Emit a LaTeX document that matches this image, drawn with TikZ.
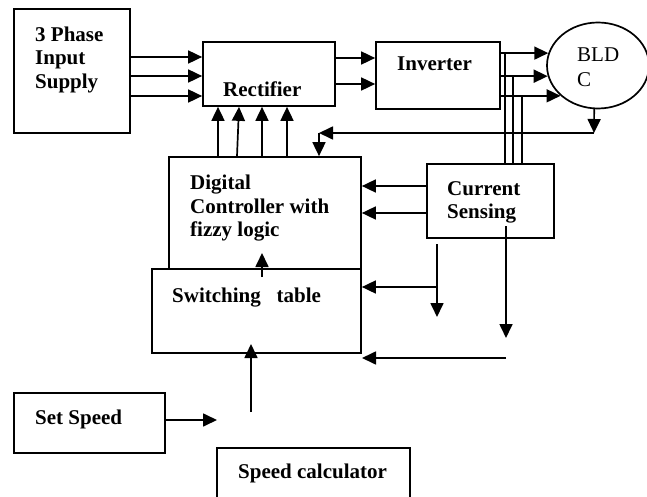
\documentclass[tikz,border=0pt]{standalone}
\usepackage{fontspec}
\setmainfont{Liberation Serif}
\usetikzlibrary{arrows.meta,shapes.geometric}
\begin{document}
\begin{tikzpicture}[x=1pt,y=-1pt,
  blk/.style={draw,line width=1.7pt,inner sep=0pt,rectangle},
  arr/.style={line width=1.7pt,-{Triangle[length=14pt,width=13pt]}},
  ln/.style={line width=1.7pt},
  lbl/.style={inner sep=0pt,font=\fontsize{21pt}{23.5pt}\selectfont\bfseries,align=left},
  lblr/.style={inner sep=0pt,font=\fontsize{21pt}{25pt}\selectfont,align=left}]
\useasboundingbox (0,0) rectangle (647,497);
\clip (0,0) rectangle (647,497);

% blocks
\node[blk,minimum width=116pt,minimum height=124pt] (sup) at (72,71) {};
\node[blk,minimum width=132pt,minimum height=64pt] (rect) at (269,74) {};
\node[blk,minimum width=124pt,minimum height=67pt] (inv) at (438,75.5) {};
\node[draw,line width=1.7pt,ellipse,inner sep=0pt,minimum width=102pt,minimum height=86pt] (bldc) at (598,65.5) {};
\node[blk,minimum width=192pt,minimum height=112pt] (ctrl) at (265,213) {};
\node[blk,fill=white,minimum width=209pt,minimum height=84pt] (sw) at (256.5,311) {};
\node[blk,minimum width=127pt,minimum height=74pt] (cs) at (490.5,201) {};
\node[blk,minimum width=151pt,minimum height=60pt] (set) at (89.5,423) {};
\node[blk,minimum width=193pt,minimum height=72pt] (calc) at (313.5,484) {};

% labels
\node[lbl,anchor=north west] (tsup) at (35,26.5) {3 Phase\\Input\\Supply};
\node[lbl,anchor=base west] (trect) at (223,97) {Rectifier};
\node[lbl,anchor=base west] (tinv) at (397,71) {Inverter};
\node[lblr,anchor=north west] (tbldc) at (577,48) {BLD\\C};
\node[lbl,anchor=north west] (tctrl) at (190,175) {Digital\\Controller with\\fizzy logic};
\node[lbl,anchor=north west] (tcs) at (447,181) {Current\\Sensing};
\node[lbl,anchor=base west] (tsw) at (172,302) {Switching\ \ \ table};
\node[lbl,anchor=base west] (tset) at (35,424) {Set Speed};
\node[lbl,anchor=base west] (tcalc) at (238,478) {Speed calculator};

% supply -> rectifier
\foreach \y in {57,76,96}
  \draw[arr] (sup.east |- 0,\y) -- (rect.west |- 0,\y);
% controller -> rectifier
\draw[arr] (ctrl.north -| 218,0) -- (rect.south -| 218,0);
\draw[arr] (ctrl.north -| 237,0) -- (rect.south -| 239,0);
\draw[arr] (ctrl.north -| 262,0) -- (rect.south -| 262,0);
\draw[arr] (ctrl.north -| 287,0) -- (rect.south -| 287,0);
% rectifier -> inverter
\foreach \y in {58,84}
  \draw[arr] (rect.east |- 0,\y) -- (inv.west |- 0,\y);
% inverter -> BLDC
\draw[arr] (inv.east |- bldc.166) -- (bldc.166);
\draw[arr] (inv.east |- bldc.192) -- (bldc.192);
\draw[arr] (inv.east |- bldc.219) -- (bldc.219);
% taps to current sensing
\coordinate (p1) at (505,53);
\coordinate (p2) at (513,76);
\coordinate (p3) at (522,96);
\draw[ln] (p1) -- (cs.north -| p1);
\draw[ln] (p2) -- (cs.north -| p2);
\draw[ln] (p3) -- (cs.north -| p3);
% speed feedback from BLDC
\coordinate (fb1) at (594,133);
\coordinate (fb2) at (319,133);
\draw[arr] (bldc.265) -- (fb1);
\draw[arr] (fb1) -- (fb2);
\draw[arr] (fb2) -- (ctrl.north -| fb2);
% current sensing -> controller
\foreach \y in {186,213}
  \draw[arr] (cs.west |- 0,\y) -- (ctrl.east |- 0,\y);
% lines below current sensing
\coordinate (q1) at (437,244);
\coordinate (q2) at (437,317);
\coordinate (q3) at (437,287);
\draw[arr] (q1) -- (q2);
\draw[arr] (q3) -- (sw.east |- q3);
\coordinate (r1) at (506,226);
\coordinate (r2) at (506,338);
\draw[arr] (r1) -- (r2);
\coordinate (s1) at (506,358);
\coordinate (s2) at (362,358);
\draw[arr] (s1) -- (s2);
% switching table -> controller
\coordinate (u1) at (262,277);
\draw[arr] (u1) -- (262,253);
% set speed
\coordinate (v1) at (217,420);
\draw[arr] (set.east |- v1) -- (v1);
\coordinate (w1) at (251,412);
\draw[arr] (w1) -- (251,344);
\end{tikzpicture}
\end{document}
